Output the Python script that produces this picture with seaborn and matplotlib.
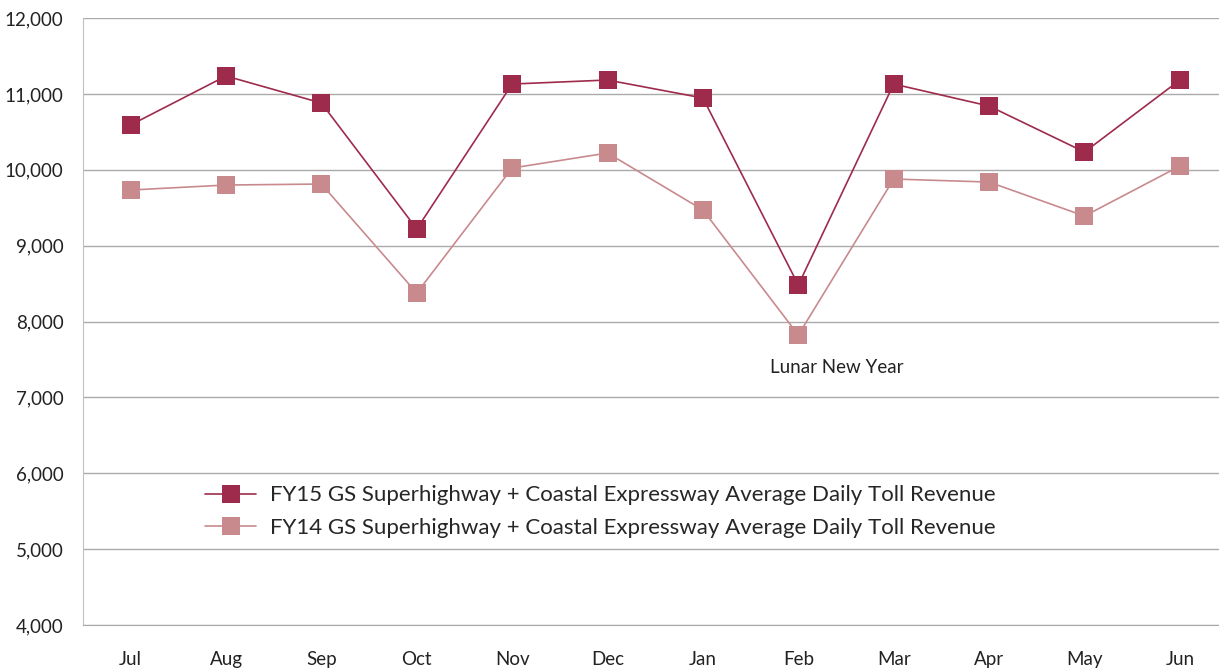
import matplotlib
matplotlib.use("Agg")
import matplotlib.pyplot as plt
import seaborn as sns
import pandas as pd

# Datos
months = ["Jul", "Aug", "Sep", "Oct", "Nov", "Dec", "Jan", "Feb", "Mar", "Apr", "May", "Jun"]
fy15 = [10590, 11236, 10880, 9220, 11130, 11183, 10946, 8481, 11130, 10840, 10234, 11183]
fy14 = [9733, 9799, 9812, 8376, 10023, 10221, 9470, 7822, 9878, 9838, 9390, 10049]
label15 = "FY15 GS Superhighway + Coastal Expressway Average Daily Toll Revenue"
label14 = "FY14 GS Superhighway + Coastal Expressway Average Daily Toll Revenue"
yticks = [4000, 5000, 6000, 7000, 8000, 9000, 10000, 11000, 12000]

df = pd.DataFrame({
    "month": months * 2,
    "pos": list(range(len(months))) * 2,
    "value": fy15 + fy14,
    "serie": [label15] * len(months) + [label14] * len(months),
})

sns.set_style("white")
plt.rcParams["font.family"] = ["Lato", "DejaVu Sans"]

fig = plt.figure(figsize=(12.19, 6.68), dpi=100)
ax = fig.add_axes([0.068, 0.0644, 0.932, 0.9086])

colors = {label15: "#9e2b4c", label14: "#c98a8e"}
sns.lineplot(data=df, x="pos", y="value", hue="serie", palette=colors,
             marker="s", markersize=12.5, markeredgewidth=0, linewidth=1.2,
             ax=ax)

ax.set_xlim(-0.5, 11.41)
ax.set_ylim(4000, 12000)
ax.set_yticks(yticks)
ax.set_yticklabels([f"{v:,}" for v in yticks], fontsize=13.5, color="#222222")
ax.set_xticks(range(len(months)))
ax.set_xticklabels(months, fontsize=13.5, color="#222222")
ax.set_xticks([i - 0.5 for i in range(len(months))], minor=True)
ax.tick_params(axis="x", which="major", length=0, pad=19)
ax.tick_params(axis="x", which="minor", length=10, color="#aaaaaa", width=1)
ax.tick_params(axis="y", which="major", length=11, color="#aaaaaa", width=1, pad=3)
ax.grid(axis="y", color="#aaaaaa", linewidth=1)
for s in ["top", "right"]:
    ax.spines[s].set_visible(False)
ax.spines["left"].set_color("#c0c0c0")
ax.spines["bottom"].set_color("#aaaaaa")
ax.set_xlabel("")
ax.set_ylabel("")

ax.text(7.4, 7400, "Lunar New Year", ha="center", va="center", fontsize=13.5, color="#222222")

ax.legend(loc="upper left", bbox_to_anchor=(0.09, 0.263), frameon=False,
          fontsize=16, handlelength=2.3, labelspacing=0.55, handletextpad=0.6)

fig.savefig("out.png", dpi=100)
